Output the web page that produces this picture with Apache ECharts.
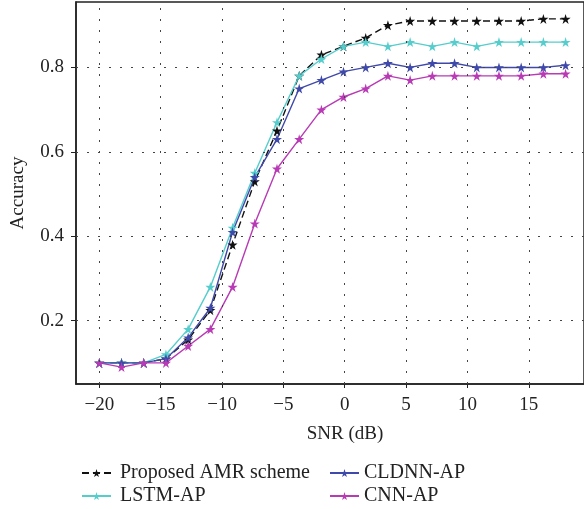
<!DOCTYPE html>
<html>
<head>
<meta charset="utf-8">
<script src="https://cdn.jsdelivr.net/npm/echarts@6/dist/echarts.min.js"></script>
<style>html,body{margin:0;padding:0;background:#fff;}#c{width:584px;height:509px;}</style>
</head>
<body>
<div id="c"></div>
<script>
var snr = [-20, -18.19, -16.38, -14.57, -12.76, -10.95, -9.14, -7.33, -5.52, -3.71, -1.90, -0.10, 1.71, 3.52, 5.33, 7.14, 8.95, 10.76, 12.57, 14.38, 16.19, 18];
var proposed = [0.10, 0.10, 0.10, 0.11, 0.155, 0.225, 0.38, 0.53, 0.65, 0.78, 0.83, 0.85, 0.87, 0.90, 0.91, 0.91, 0.91, 0.91, 0.91, 0.91, 0.915, 0.915];
var lstm = [0.10, 0.10, 0.10, 0.12, 0.18, 0.28, 0.42, 0.55, 0.67, 0.78, 0.82, 0.85, 0.86, 0.85, 0.86, 0.85, 0.86, 0.85, 0.86, 0.86, 0.86, 0.86];
var cldnn = [0.10, 0.10, 0.10, 0.11, 0.16, 0.23, 0.41, 0.54, 0.63, 0.75, 0.77, 0.79, 0.80, 0.81, 0.80, 0.81, 0.81, 0.80, 0.80, 0.80, 0.80, 0.805];
var cnn = [0.10, 0.09, 0.10, 0.10, 0.14, 0.18, 0.28, 0.43, 0.56, 0.63, 0.70, 0.73, 0.75, 0.78, 0.77, 0.78, 0.78, 0.78, 0.78, 0.78, 0.785, 0.785];
var xTicks = [-20, -15, -10, -5, 0, 5, 10, 15];
var yTicks = [0.2, 0.4, 0.6, 0.8];
var names = ['Proposed AMR scheme', 'LSTM-AP', 'CLDNN-AP', 'CNN-AP'];
var colors = ['#111111', '#55cdcd', '#3f49a9', '#b83ab5'];

var star = 'path://M50,0 L61,35 L98,35 L68,57 L79,91 L50,70 L21,91 L32,57 L2,35 L39,35 Z';
var FONT = 'Liberation Serif';

function pairs(ys) { return snr.map(function (x, i) { return [x, ys[i]]; }); }
function mk(name, ys, color, dashed) {
  return {
    name: name, type: 'line', data: pairs(ys),
    symbol: star, symbolSize: 10,
    itemStyle: { color: color },
    lineStyle: { color: color, width: 1.4, type: dashed ? [7, 4] : 'solid' },
    emphasis: { disabled: true },
    animation: false
  };
}
function leg(name, left, top, pad) {
  return { left: left, top: top, itemWidth: 29, itemHeight: 10, padding: 0,
    data: [name], textStyle: { fontFamily: FONT, fontSize: 20, color: '#222', padding: [0, 0, 0, pad] } };
}

var chart = echarts.init(document.getElementById('c'), null, { renderer: 'canvas' });
chart.setOption({
  backgroundColor: '#fff',
  animation: false,
  textStyle: { fontFamily: FONT },
  grid: { left: 76, top: 2, right: 0, bottom: 125, show: true, borderColor: '#222', borderWidth: 1.5 },
  xAxis: {
    type: 'value', min: -21.9, max: 19.5,
    name: 'SNR (dB)', nameLocation: 'middle', nameGap: 41,
    nameTextStyle: { fontFamily: FONT, fontSize: 19, color: '#222', padding: [0, 0, 0, 30] },
    axisLine: { show: true, onZero: false, lineStyle: { color: '#222', width: 1.5 } },
    axisTick: { show: true, customValues: xTicks, length: 4, lineStyle: { color: '#222' } },
    axisLabel: { customValues: xTicks, fontFamily: FONT, fontSize: 19, color: '#222', margin: 12,
      formatter: function (v) { return v < 0 ? '\u2212' + Math.abs(v) : String(v); } },
    splitLine: { show: false }
  },
  yAxis: {
    type: 'value', min: 0.05, max: 0.955,
    name: 'Accuracy', nameLocation: 'middle', nameGap: 48,
    nameTextStyle: { fontFamily: FONT, fontSize: 19, color: '#222' },
    axisLine: { show: true, onZero: false, lineStyle: { color: '#222', width: 1.5 } },
    axisTick: { show: true, customValues: yTicks, length: 5, lineStyle: { color: '#222' } },
    axisLabel: { customValues: yTicks, fontFamily: FONT, fontSize: 19, color: '#222', margin: 12,
      formatter: function (v) { return v.toFixed(1); } },
    splitLine: { show: false }
  },
  legend: [
    leg(names[0], 81, 463, 4),
    leg(names[1], 81, 486, 4),
    leg(names[2], 329, 463, 0),
    leg(names[3], 329, 486, 0)
  ],
  series: [
    (function () {
      var s = mk(names[0], proposed, colors[0], true);
      s.markLine = {
        silent: true, symbol: 'none', label: { show: false },
        lineStyle: { color: '#444', width: 1, type: [2, 9] },
        data: xTicks.map(function (v) { return { xAxis: v }; }).concat(yTicks.map(function (v) { return { yAxis: v }; }))
      };
      return s;
    })(),
    mk(names[1], lstm, colors[1], false),
    mk(names[2], cldnn, colors[2], false),
    mk(names[3], cnn, colors[3], false)
  ]
});
</script>
</body>
</html>
